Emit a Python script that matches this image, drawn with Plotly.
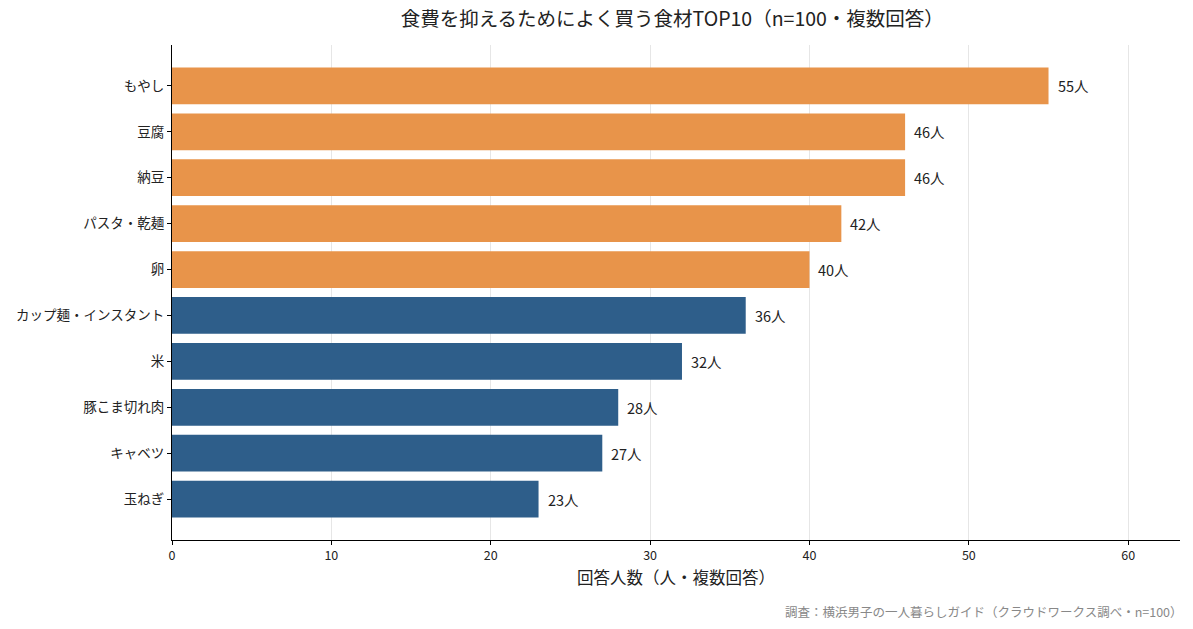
import plotly.graph_objects as go

categories = ["もやし", "豆腐", "納豆", "パスタ・乾麺", "卵",
              "カップ麺・インスタント", "米", "豚こま切れ肉", "キャベツ", "玉ねぎ"]
values = [55, 46, 46, 42, 40, 36, 32, 28, 27, 23]
highlight = [True, True, True, True, True, False, False, False, False, False]

ORANGE = "#E8944A"
BLUE = "#2E5E8A"
FONT = "Noto Sans CJK JP"

colors = [ORANGE if h else BLUE for h in highlight]
ypos = list(range(len(categories)))

fig = go.Figure()
fig.add_trace(go.Bar(
    x=values, y=ypos, orientation="h", width=0.8,
    marker=dict(color=colors, line=dict(width=0)),
    hoverinfo="skip",
))

for v, y in zip(values, ypos):
    fig.add_annotation(x=v, y=y, text=f"{v}人", showarrow=False,
                       xanchor="left", yanchor="middle", xshift=7,
                       font=dict(family=FONT, size=14.5, color="#222222"))

fig.add_annotation(text="調査：横浜男子の一人暮らしガイド（クラウドワークス調べ・n=100）",
                   xref="paper", yref="paper", x=1.0, y=-0.145, xshift=5,
                   xanchor="right", yanchor="middle", showarrow=False,
                   font=dict(family=FONT, size=12.5, color="#888888"))

fig.update_layout(
    width=1193, height=629,
    margin=dict(l=172, r=13, t=45, b=89),
    paper_bgcolor="white", plot_bgcolor="white",
    showlegend=False,
    font=dict(family=FONT, color="#222222"),
    title=dict(text="食費を抑えるためによく買う食材TOP10（n=100・複数回答）",
               x=0.5635, xanchor="center", y=0.970, yanchor="middle",
               font=dict(family=FONT, size=19.5, color="#222222")),
    bargap=0.2,
)
fig.update_xaxes(
    range=[0, 63.25], tickvals=[0, 10, 20, 30, 40, 50, 60],
    showgrid=True, gridcolor="#E6E6E6", gridwidth=1,
    showline=True, linecolor="black", linewidth=1,
    ticks="outside", ticklen=4, tickcolor="black",
    tickfont=dict(family=FONT, size=12.5, color="#222222"),
    title=dict(text="回答人数（人・複数回答）", standoff=9,
               font=dict(family=FONT, size=16.5, color="#222222")),
    zeroline=False, mirror=False,
)
fig.update_yaxes(
    range=[9.89, -0.89], tickvals=ypos, ticktext=categories,
    showgrid=False, showline=True, linecolor="black", linewidth=1,
    ticks="outside", ticklen=4, tickcolor="black",
    tickfont=dict(family=FONT, size=13.5, color="#222222"),
    zeroline=False,
)

fig.write_html("out.html")
